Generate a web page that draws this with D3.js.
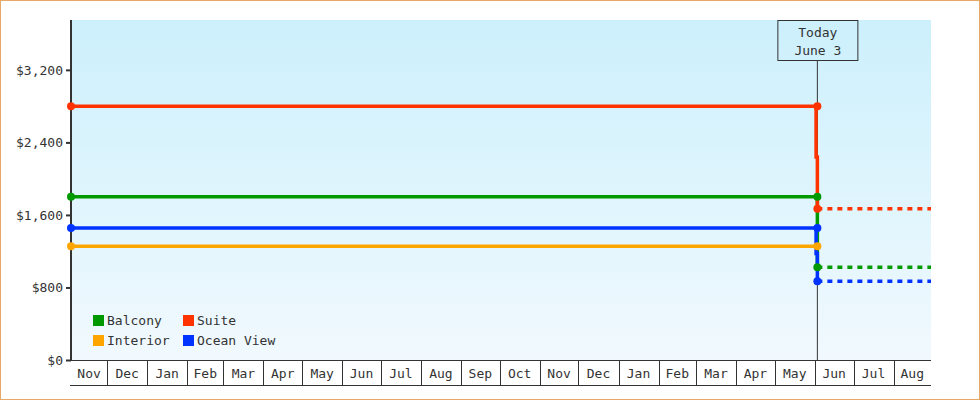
<!DOCTYPE html>
<html lang="en">
<head>
    <meta charset="UTF-8">
    <title>Cabin Price History</title>
    <script src="https://d3js.org/d3.v7.min.js"></script>
    <style>
        body {
            margin: 0;
            background: #fff;
        }
        svg text {
            font-family: "DejaVu Sans Mono", monospace;
            font-size: 13px;
            fill: #333;
        }
        .frame {
            fill: none;
            stroke: #e8a866;
            stroke-width: 2;
        }
        .price-line {
            fill: none;
            stroke-width: 3.5;
        }
        .future-line {
            fill: none;
            stroke-width: 3.5;
            stroke-dasharray: 5 5;
        }
        .axis-line {
            stroke: #333;
            stroke-width: 2;
        }
        .cell-line {
            stroke: #333;
            stroke-width: 1;
        }
        .today-line {
            stroke: #333;
            stroke-width: 1;
        }
        .today-box {
            fill: none;
            stroke: #333;
            stroke-width: 1;
        }
    </style>
</head>
<body>
    <script>
        // cabin categories and their colours
        const cabins = ['Balcony', 'Suite', 'Interior', 'Ocean View'];
        const cabinColors = ['#009900', '#ff3300', '#ffa500', '#0033ff'];

        // dates
        const startDate = '2022-11-03';
        const stepDate = '2024-06-02';
        const todayDate = '2024-06-03';
        const endDate = '2024-08-30';
        const todayLabel = ['Today', 'June 3'];

        // prices (USD)
        const startPrice = [1800, 2800, 1254, 1455];
        const stepPrice = [null, 2240, null, 1175];
        const todayPrice = [1023, 1669, null, 868];

        const yTicks = [0, 800, 1600, 2400, 3200];
        const yMax = 3750;

        const width = 980, height = 400;
        const margin = { top: 20, right: 49, bottom: 40, left: 71 };
        const parse = d3.utcParse('%Y-%m-%d');

        const svg = d3.select('body').append('svg')
            .attr('width', width)
            .attr('height', height);

        const x = d3.scaleUtc()
            .domain([parse(startDate), parse(endDate)])
            .range([margin.left, width - margin.right]);

        const y = d3.scaleLinear()
            .domain([0, yMax])
            .range([height - margin.bottom, margin.top]);

        // background gradient
        const grad = svg.append('defs').append('linearGradient')
            .attr('id', 'bg')
            .attr('x1', 0).attr('y1', 0).attr('x2', 0).attr('y2', 1);
        grad.append('stop').attr('offset', '0%').attr('stop-color', '#ccf0fc');
        grad.append('stop').attr('offset', '100%').attr('stop-color', '#f1f9fe');

        svg.append('rect')
            .attr('x', x.range()[0])
            .attr('y', y.range()[1])
            .attr('width', x.range()[1] - x.range()[0])
            .attr('height', y.range()[0] - y.range()[1])
            .attr('fill', 'url(#bg)');

        svg.append('rect')
            .attr('class', 'frame')
            .attr('x', 0).attr('y', 0)
            .attr('width', width).attr('height', height);

        // x axis as month cells
        const x0 = x.range()[0], x1 = x.range()[1];
        const yBase = y(0);
        const cellH = 25;
        const monthStarts = d3.utcMonth.range(d3.utcMonth.ceil(x.domain()[0]), x.domain()[1]);
        const cellEdges = [x.domain()[0]].concat(monthStarts, [x.domain()[1]]);
        const cells = d3.pairs(cellEdges);

        svg.append('line')
            .attr('class', 'cell-line')
            .attr('x1', x0).attr('x2', x1)
            .attr('y1', yBase + 0.5).attr('y2', yBase + 0.5);
        svg.append('line')
            .attr('class', 'cell-line')
            .attr('x1', x0 - 1).attr('x2', x1)
            .attr('y1', yBase + cellH + 0.5).attr('y2', yBase + cellH + 0.5);

        svg.selectAll('.month-border')
            .data(monthStarts)
            .enter().append('line')
            .attr('class', 'cell-line')
            .attr('x1', d => Math.round(x(d)) + 0.5)
            .attr('x2', d => Math.round(x(d)) + 0.5)
            .attr('y1', yBase)
            .attr('y2', yBase + cellH);

        svg.selectAll('.month-label')
            .data(cells)
            .enter().append('text')
            .attr('x', d => (x(d[0]) + x(d[1])) / 2)
            .attr('y', yBase + 18)
            .attr('text-anchor', 'middle')
            .text(d => d3.utcFormat('%b')(d[0]));

        // y axis
        const yAxis = d3.axisLeft(y)
            .tickValues(yTicks)
            .tickSize(5)
            .tickPadding(3)
            .tickFormat(d => '$' + d3.format(',')(d));

        const gy = svg.append('g')
            .attr('transform', `translate(${x0},0)`)
            .call(yAxis);
        gy.select('.domain').remove();
        gy.selectAll('.tick line').attr('stroke', '#333').attr('stroke-width', 2);
        gy.selectAll('.tick text')
            .attr('fill', '#333')
            .style('font-family', '"DejaVu Sans Mono", monospace')
            .style('font-size', '13px');

        svg.append('line')
            .attr('class', 'axis-line')
            .attr('x1', x0).attr('x2', x0)
            .attr('y1', y.range()[1]).attr('y2', yBase + 1);

        // today marker
        const xt = x(parse(todayDate));
        const boxW = 80, boxH = 40;
        svg.append('line')
            .attr('class', 'today-line')
            .attr('x1', xt).attr('x2', xt)
            .attr('y1', margin.top + boxH).attr('y2', yBase);
        svg.append('rect')
            .attr('class', 'today-box')
            .attr('x', xt - boxW / 2 + 0.5)
            .attr('y', margin.top + 0.5)
            .attr('width', boxW)
            .attr('height', boxH);
        svg.append('text')
            .attr('x', xt + 0.5)
            .attr('y', margin.top + 17)
            .attr('text-anchor', 'middle')
            .text(todayLabel[0]);
        svg.append('text')
            .attr('x', xt + 0.5)
            .attr('y', margin.top + 35)
            .attr('text-anchor', 'middle')
            .text(todayLabel[1]);

        // price lines
        const line = d3.line()
            .x(d => x(d[0]))
            .y(d => y(d[1]));

        cabins.forEach((c, i) => {
            const pts = [[parse(startDate), startPrice[i]]];
            if (stepPrice[i] != null) {
                pts.push([parse(stepDate), startPrice[i]]);
                pts.push([parse(stepDate), stepPrice[i]]);
                pts.push([parse(todayDate), stepPrice[i]]);
            } else {
                pts.push([parse(todayDate), startPrice[i]]);
            }
            if (todayPrice[i] != null) {
                pts.push([parse(todayDate), todayPrice[i]]);
            }
            svg.append('path')
                .datum(pts)
                .attr('class', 'price-line')
                .attr('stroke', cabinColors[i])
                .attr('d', line);

            if (todayPrice[i] != null) {
                svg.append('path')
                    .datum([[parse(todayDate), todayPrice[i]], [parse(endDate), todayPrice[i]]])
                    .attr('class', 'future-line')
                    .attr('stroke', cabinColors[i])
                    .attr('d', line);
            }
        });

        // markers
        cabins.forEach((c, i) => {
            const marks = [[parse(startDate), startPrice[i]], [parse(todayDate), startPrice[i]]];
            if (todayPrice[i] != null) marks.push([parse(todayDate), todayPrice[i]]);
            svg.selectAll(null)
                .data(marks)
                .enter().append('circle')
                .attr('cx', d => x(d[0]))
                .attr('cy', d => y(d[1]))
                .attr('r', 4)
                .attr('fill', cabinColors[i]);
        });

        // legend, two columns
        const legend = svg.append('g')
            .attr('transform', 'translate(93,315)');
        const item = legend.selectAll('g')
            .data(cabins)
            .enter().append('g')
            .attr('transform', (d, i) => `translate(${(i % 2) * 90},${Math.floor(i / 2) * 20})`);
        item.append('rect')
            .attr('width', 11)
            .attr('height', 11)
            .attr('fill', (d, i) => cabinColors[i]);
        item.append('text')
            .attr('x', 14)
            .attr('y', 10)
            .text(d => d);
    </script>
</body>
</html>
